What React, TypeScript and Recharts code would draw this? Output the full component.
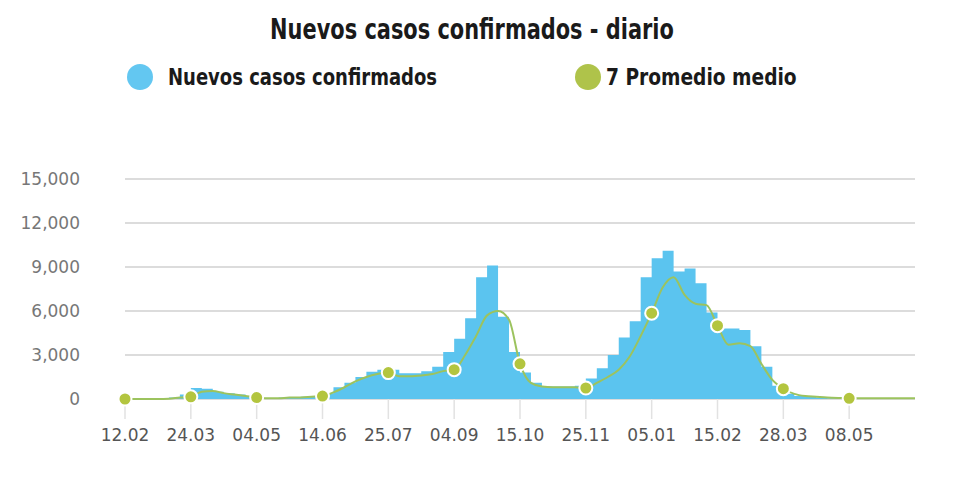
import React from 'react';
import { ComposedChart, Area, Line, XAxis, YAxis, CartesianGrid } from 'recharts';

const xLabels = ['12.02', '24.03', '04.05', '14.06', '25.07', '04.09', '15.10', '25.11', '05.01', '15.02', '28.03', '08.05'];
const yTicks = [0, 3000, 6000, 9000, 12000, 15000];

// new confirmed cases, one step per period (period index 0..72)
const newCases: (number | null)[] = [
  null, null, null, null, 100, 300, 750, 700, 500, 400,
  300, 150, 50, 50, 100, 100, 150, 200, 400, 800,
  1100, 1500, 1850, 2000, 2000, 1750, 1750, 1900, 2200, 3200,
  4100, 5500, 8300, 9100, 5600, 3200, 1800, 1100, 850, 850,
  850, 900, 1400, 2100, 3000, 4200, 5300, 8300, 9600, 10100,
  8700, 8900, 7900, 5900, 4800, 4800, 4700, 3600, 2200, 900,
  350, 200, 150, 100, 50, 50, 0, null, null, null,
  null, null, null,
];

// 7-day average
const avg7: number[] = [
  0, 0, 0, 0, 20, 100, 150, 500, 550, 400,
  300, 200, 100, 50, 50, 100, 100, 150, 200, 450,
  800, 1200, 1500, 1700, 1800, 1550, 1550, 1600, 1700, 1900,
  2000, 3000, 4300, 5700, 6000, 5400, 2400, 1100, 850, 800,
  800, 800, 750, 1100, 1500, 2000, 2900, 4300, 5850, 7600,
  8300, 7100, 6500, 6400, 5000, 3700, 3800, 3600, 2400, 1300,
  700, 350, 200, 150, 100, 70, 50, 50, 50, 50,
  50, 50, 50,
];

const data = avg7.map((a, i) => ({ i, cases: newCases[i], avg: a }));
const xTicks = xLabels.map((_, k) => k * 6);

const BLUE = '#5bc4ef';
const GREEN_LINE = '#9cc35e';
const GREEN_DOT = '#b3c53f';
const AXIS_FONT = '"DejaVu Sans", sans-serif';

const renderDot = (props: any) => {
  const { cx, cy, payload, index } = props;
  if (payload && payload.i % 6 === 0 && payload.i <= 66) {
    return <circle key={`d${index}`} cx={cx} cy={cy} r={6.5} fill={GREEN_DOT} stroke="#ffffff" strokeWidth={2} />;
  }
  return <g key={`d${index}`} />;
};

const YTick = (props: any) => {
  const { x, y, payload } = props;
  return (
    <text x={80} y={y} dy="0.355em" textAnchor="end" fill="#777777" fontSize={17} fontFamily={AXIS_FONT}>
      {Number(payload.value).toLocaleString('en-US')}
    </text>
  );
};

export default function App() {
  const titleFont = '"DejaVu Sans Condensed", "DejaVu Sans", sans-serif';
  return (
    <div style={{ position: 'absolute', left: 0, top: 0, width: 980, height: 486, background: '#fff' }}>
      <div style={{ position: 'absolute', left: 472, top: 13, transform: 'translateX(-50%) scaleX(0.83)', whiteSpace: 'nowrap', fontFamily: titleFont, fontWeight: 'bold', fontSize: 28, color: '#1a1a1a', lineHeight: '34px' }}>
        Nuevos casos confirmados - diario
      </div>
      <div style={{ position: 'absolute', left: 127, top: 64, width: 26, height: 26, borderRadius: '50%', background: '#63c7f1' }} />
      <div style={{ position: 'absolute', left: 168, top: 61, transform: 'scaleX(0.87)', transformOrigin: 'left center', whiteSpace: 'nowrap', fontFamily: titleFont, fontWeight: 'bold', fontSize: 23, color: '#1a1a1a', lineHeight: '32px' }}>
        Nuevos casos confirmados
      </div>
      <div style={{ position: 'absolute', left: 575, top: 64, width: 26, height: 26, borderRadius: '50%', background: '#afc34a' }} />
      <div style={{ position: 'absolute', left: 606, top: 61, transform: 'scaleX(0.9)', transformOrigin: 'left center', whiteSpace: 'nowrap', fontFamily: titleFont, fontWeight: 'bold', fontSize: 23, color: '#1a1a1a', lineHeight: '32px' }}>
        7 Promedio medio
      </div>
      <div style={{ position: 'absolute', left: 0, top: 0 }}>
        <ComposedChart width={980} height={486} data={data} margin={{ top: 179, right: 65, bottom: 57, left: 0 }}>
          <CartesianGrid horizontal vertical={false} stroke="#dcdcdc" strokeWidth={2} />
          <XAxis
            dataKey="i"
            type="number"
            domain={[0, 72]}
            ticks={xTicks}
            interval={0}
            tickFormatter={(v: number) => xLabels[Math.round(v / 6)]}
            axisLine={false}
            tickSize={20}
            tickMargin={10}
            tickLine={{ stroke: '#e2e2e2', strokeWidth: 1.5 }}
            tick={{ fill: '#555555', fontSize: 17, fontFamily: AXIS_FONT }}
            height={30}
          />
          <YAxis
            type="number"
            domain={[0, 15000]}
            ticks={yTicks}
            interval={0}
            width={125}
            axisLine={false}
            tickLine={false}
            tick={<YTick />}
          />
          <Area
            type="stepAfter"
            dataKey="cases"
            fill={BLUE}
            fillOpacity={1}
            stroke="none"
            isAnimationActive={false}
            connectNulls={false}
          />
          <Line
            type="monotone"
            dataKey="avg"
            stroke={GREEN_LINE}
            strokeWidth={2}
            dot={renderDot}
            activeDot={false}
            isAnimationActive={false}
          />
        </ComposedChart>
      </div>
    </div>
  );
}
